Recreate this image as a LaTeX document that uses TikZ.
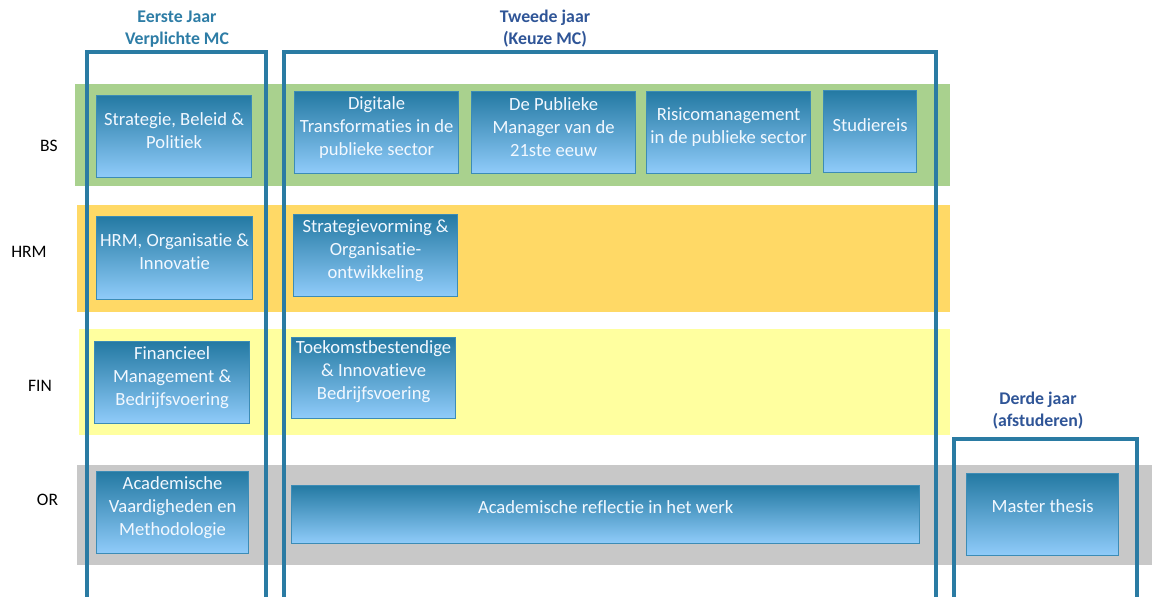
\documentclass[tikz,border=0pt]{standalone}
\usepackage{fontspec}
\setmainfont{Carlito}[RawFeature={-liga;-clig;-calt;-dlig;-rlig}]
\definecolor{bsgreen}{HTML}{A9D18E}
\definecolor{hrmorange}{HTML}{FFD966}
\definecolor{finyellow}{HTML}{FFFF9F}
\definecolor{orgray}{HTML}{C8C8C8}
\definecolor{framecol}{HTML}{2A7BA3}
\definecolor{boxtop}{HTML}{247AA3}
\definecolor{boxbot}{HTML}{90CCFA}
\definecolor{boxline}{HTML}{3C8CB6}
\definecolor{hdrA}{HTML}{2E7DA6}
\definecolor{hdrB}{HTML}{2F5597}
\definecolor{boxtxt}{HTML}{F2F8FF}
\tikzset{
  band/.style={fill=#1, draw=none, inner sep=0pt, anchor=north west},
  modbox/.style={draw=boxline, line width=1.2pt, top color=boxtop, bottom color=boxbot, inner sep=0pt, anchor=north west},
  modtext/.style={text=boxtxt, align=center, font=\fontsize{18.6}{23}\selectfont, inner sep=0pt},
  rowlab/.style={font=\fontsize{17.5}{20}\selectfont, inner sep=0pt},
  hdr/.style={font=\bfseries\fontsize{17.8}{22}\selectfont, align=center, inner sep=0pt},
  yearframe/.style={draw=framecol, line width=3.5pt}
}
\begin{document}
\begin{tikzpicture}[x=1pt,y=-1pt]
\useasboundingbox (0,0) rectangle (1154,597);
% bands
\node[band=bsgreen, minimum width=875, minimum height=102] (bs) at (75,84) {};
\node[band=hrmorange, minimum width=873, minimum height=107] (hrm) at (77,205) {};
\node[band=finyellow, minimum width=871, minimum height=106] (fin) at (79,329) {};
\node[band=orgray, minimum width=1075, minimum height=100] (or) at (77,465) {};
% row labels
\node[rowlab] (lbs) at (49,146) {BS};
\node[rowlab] (lhrm) at (29,252) {HRM};
\node[rowlab] (lfin) at (40,386) {FIN};
\node[rowlab] (lor) at (47.5,500) {OR};
% modules
\node[modbox, minimum width=155, minimum height=82] (m1) at (96,95) {};
\node[modtext] (m1t) at ([yshift=6]m1.center) {Strategie, Beleid \&\\Politiek};
\node[modbox, minimum width=164, minimum height=82] (m2) at (294,91) {};
\node[modtext] (m2t) at ([yshift=5]m2.center) {Digitale\\Transformaties in de\\publieke sector};
\node[modbox, minimum width=164, minimum height=82] (m3) at (471,91) {};
\node[modtext] (m3t) at ([yshift=5]m3.center) {De Publieke\\Manager van de\\21ste eeuw};
\node[modbox, minimum width=164, minimum height=82] (m4) at (646,91) {};
\node[modtext] (m4t) at ([yshift=6]m4.center) {Risicomanagement\\in de publieke sector};
\node[modbox, minimum width=93, minimum height=82] (m5) at (823,90) {};
\node[modtext] (m5t) at ([yshift=6]m5.center) {Studiereis};
\node[modbox, minimum width=156, minimum height=83] (m6) at (96,216) {};
\node[modtext] (m6t) at ([yshift=6]m6.center) {HRM, Organisatie \&\\Innovatie};
\node[modbox, minimum width=164, minimum height=82] (m7) at (293,214) {};
\node[modtext] (m7t) at ([yshift=5]m7.center) {Strategievorming \&\\Organisatie-\\ontwikkeling};
\node[modbox, minimum width=155, minimum height=82] (m8) at (94,341) {};
\node[modtext] (m8t) at ([yshift=5]m8.center) {Financieel\\Management \&\\Bedrijfsvoering};
\node[modbox, minimum width=164, minimum height=81] (m9) at (291,337) {};
\node[modtext] (m9t) at ([yshift=6]m9.center) {Toekomstbestendige\\\& Innovatieve\\Bedrijfsvoering};
\node[modbox, minimum width=152, minimum height=82] (m10) at (96,471) {};
\node[modtext] (m10t) at ([yshift=5]m10.center) {Academische\\Vaardigheden en\\Methodologie};
\node[modbox, minimum width=628, minimum height=58] (m11) at (291,485) {};
\node[modtext] (m11t) at ([yshift=7]m11.center) {Academische reflectie in het werk};
\node[modbox, minimum width=152, minimum height=82] (m12) at (966,473) {};
\node[modtext] (m12t) at ([yshift=8]m12.center) {Master thesis};
% year frames
\coordinate (f1a) at (87,600); \coordinate (f1b) at (87,52); \coordinate (f1c) at (266,52); \coordinate (f1d) at (266,600);
\draw[yearframe] (f1a) -- (f1b) -- (f1c) -- (f1d);
\coordinate (f2a) at (284,600); \coordinate (f2b) at (284,52); \coordinate (f2c) at (936,52); \coordinate (f2d) at (936,600);
\draw[yearframe] (f2a) -- (f2b) -- (f2c) -- (f2d);
\coordinate (f3a) at (954,600); \coordinate (f3b) at (954,439); \coordinate (f3c) at (1137,439); \coordinate (f3d) at (1137,600);
\draw[yearframe] (f3a) -- (f3b) -- (f3c) -- (f3d);
% headers
\node[hdr, text=hdrA] (h1) at (177,29) {Eerste Jaar\\Verplichte MC};
\node[hdr, text=hdrB] (h2) at (545,29) {Tweede jaar\\(Keuze MC)};
\node[hdr, text=hdrB] (h3) at (1038,411) {Derde jaar\\(afstuderen)};
\end{tikzpicture}
\end{document}
